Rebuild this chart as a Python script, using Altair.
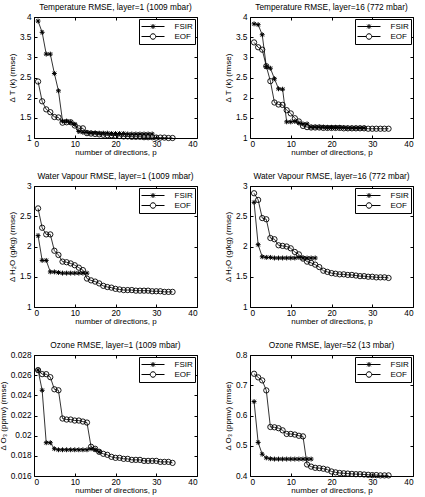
import altair as alt
import pandas as pd

FONT = "Liberation Sans"

# Retrieval error versus number of directions p (FSIR and EOF bases)
temp1_fsir = [3.90, 3.62, 3.08, 3.08, 2.60, 2.17, 1.42, 1.42, 1.39, 1.34, 1.16, 1.14, 1.14, 1.13,
              1.13, 1.12, 1.12, 1.12, 1.11, 1.11, 1.11, 1.11, 1.10, 1.10, 1.10, 1.10, 1.10, 1.10, 1.10]
temp1_eof = [2.40, 1.91, 1.71, 1.64, 1.52, 1.51, 1.38, 1.39, 1.39, 1.31, 1.24, 1.24, 1.12, 1.11,
             1.10, 1.09, 1.08, 1.07, 1.07, 1.06, 1.05, 1.04, 1.04, 1.03, 1.03, 1.03, 1.02, 1.02,
             1.02, 1.01, 1.01, 1.01, 1.00, 1.00]

temp16_fsir = [3.83, 3.81, 3.56, 2.77, 2.73, 2.47, 2.22, 2.21, 1.40, 1.40, 1.41, 1.37, 1.35, 1.35,
               1.27, 1.27, 1.27, 1.27, 1.26, 1.26, 1.26, 1.26, 1.26, 1.25, 1.25, 1.25, 1.25, 1.25]
temp16_eof = [3.37, 3.25, 3.19, 2.78, 2.41, 1.88, 1.83, 1.82, 1.69, 1.61, 1.49, 1.41, 1.30, 1.27,
              1.26, 1.26, 1.26, 1.25, 1.25, 1.25, 1.25, 1.25, 1.24, 1.24, 1.24, 1.24, 1.24, 1.24,
              1.23, 1.23, 1.23, 1.23, 1.23, 1.23]

wv1_fsir = [2.18, 1.77, 1.77, 1.58, 1.58, 1.57, 1.56, 1.56, 1.56, 1.56, 1.56, 1.56, 1.56]
wv1_eof = [2.63, 2.31, 2.20, 2.20, 1.93, 1.86, 1.75, 1.74, 1.72, 1.69, 1.65, 1.61, 1.47, 1.44,
           1.42, 1.39, 1.35, 1.33, 1.32, 1.30, 1.29, 1.28, 1.28, 1.28, 1.27, 1.27, 1.27, 1.27,
           1.26, 1.26, 1.26, 1.25, 1.25, 1.25]

wv16_fsir = [2.73, 2.03, 1.83, 1.82, 1.82, 1.81, 1.81, 1.81, 1.81, 1.81, 1.81, 1.82, 1.81, 1.81,
             1.81, 1.81]
wv16_eof = [2.88, 2.77, 2.47, 2.45, 2.14, 2.12, 2.02, 2.01, 2.00, 1.97, 1.91, 1.87, 1.80, 1.75,
            1.73, 1.70, 1.66, 1.60, 1.58, 1.56, 1.55, 1.54, 1.54, 1.53, 1.53, 1.52, 1.51, 1.51,
            1.50, 1.50, 1.49, 1.49, 1.49, 1.48]

o3_1_fsir = [0.0265, 0.0245, 0.0193, 0.0193, 0.0187, 0.0186, 0.0186, 0.0186, 0.0186, 0.0186,
             0.0186, 0.0186, 0.0186, 0.0187, 0.0186, 0.0184]
o3_1_eof = [0.0265, 0.0261, 0.0261, 0.0258, 0.0246, 0.0245, 0.0217, 0.0216, 0.0216, 0.0215,
            0.0215, 0.0214, 0.0213, 0.0189, 0.0187, 0.0184, 0.0182, 0.0181, 0.0179, 0.0178,
            0.0178, 0.0177, 0.0177, 0.0176, 0.0176, 0.0176, 0.0175, 0.0175, 0.0175, 0.0175,
            0.0174, 0.0174, 0.0174, 0.0173]

o3_52_fsir = [0.646, 0.511, 0.472, 0.460, 0.457, 0.456, 0.456, 0.456, 0.456, 0.456, 0.456,
              0.456, 0.456, 0.456, 0.456]
o3_52_eof = [0.738, 0.726, 0.716, 0.683, 0.562, 0.561, 0.558, 0.551, 0.539, 0.539, 0.537, 0.533,
             0.531, 0.438, 0.431, 0.427, 0.426, 0.424, 0.421, 0.415, 0.412, 0.410, 0.409, 0.408,
             0.407, 0.406, 0.406, 0.405, 0.404, 0.403, 0.403, 0.402, 0.402, 0.402]

x_ticks = [0, 10, 20, 30, 40]
temp_ticks = [1, 1.5, 2, 2.5, 3, 3.5, 4]
wv_ticks = [1, 1.5, 2, 2.5, 3]
o3_1_ticks = [0.016, 0.018, 0.020, 0.022, 0.024, 0.026, 0.028]
o3_52_ticks = [0.4, 0.5, 0.6, 0.7, 0.8]

# marker glyphs: asterisk for FSIR, plus legend keys (line with marker)
ASTERISK = "M0,-1V1M-1,0H1M-0.72,-0.72L0.72,0.72M-0.72,0.72L0.72,-0.72"
KEY_FSIR = "M-2.3,0H2.3M0,-0.5V0.5M-0.36,-0.36L0.36,0.36M-0.36,0.36L0.36,-0.36"
KEY_EOF = ("M-2.3,0H-0.55M0.55,0H2.3"
           "M0.55,0A0.55,0.55,0,1,1,-0.55,0A0.55,0.55,0,1,1,0.55,0")

PW, PH = 163, 121
INNER = dict(offset=-3, tickSize=3, domain=False, grid=False)


def frame(fsir, eof):
    rows = []
    for name, vals in (("FSIR", fsir), ("EOF", eof)):
        for i, v in enumerate(vals, start=1):
            rows.append({"p": i, "value": v, "series": name})
    return pd.DataFrame(rows)


def panel(title, ytitle, fsir, eof, ydomain, yticks):
    base = alt.Chart(frame(fsir, eof))
    xs = alt.Scale(domain=[0, 40], nice=False, zero=False)
    ys = alt.Scale(domain=ydomain, nice=False, zero=False)

    lines = base.mark_line(color="black", strokeWidth=0.8).encode(
        x=alt.X("p:Q", scale=xs,
                axis=alt.Axis(orient="bottom", values=x_ticks,
                              title="number of directions, p", **INNER)),
        y=alt.Y("value:Q", scale=ys,
                axis=alt.Axis(orient="left", values=yticks, format="~g",
                              title=ytitle, **INNER)),
        detail="series:N",
    )
    fsir_pts = base.transform_filter(alt.datum.series == "FSIR").mark_point(
        shape=ASTERISK, size=24, filled=False, color="black", strokeWidth=1, opacity=1
    ).encode(
        x=alt.X("p:Q", scale=xs, axis=None),
        y=alt.Y("value:Q", scale=ys, axis=None),
    )
    eof_pts = base.transform_filter(alt.datum.series == "EOF").mark_point(
        shape="circle", size=28, filled=False, color="black", strokeWidth=0.9, opacity=1
    ).encode(
        x=alt.X("p:Q", scale=xs, axis=None),
        y=alt.Y("value:Q", scale=ys, axis=None),
    )
    # mirrored inward ticks on the top and right edges, and the legend
    keys = base.transform_filter(alt.datum.p < 0).mark_point(
        filled=False, color="black", strokeWidth=1, opacity=1
    ).encode(
        x=alt.X("p:Q", scale=xs,
                axis=alt.Axis(orient="top", values=x_ticks, labels=False, title=None, **INNER)),
        y=alt.Y("value:Q", scale=ys,
                axis=alt.Axis(orient="right", values=yticks, labels=False, title=None, **INNER)),
        shape=alt.Shape(
            "series:N",
            scale=alt.Scale(domain=["FSIR", "EOF"], range=[KEY_FSIR, KEY_EOF]),
            legend=alt.Legend(
                title=None, orient="top-right", offset=2, padding=2,
                strokeColor="black", fillColor="white", cornerRadius=0,
                labelFont=FONT, labelFontSize=8, labelColor="black",
                symbolSize=100, symbolStrokeWidth=1, symbolStrokeColor="black",
                symbolOffset=6.5, labelOffset=16, rowPadding=0,
            ),
        ),
    )
    return alt.layer(lines, fsir_pts, eof_pts, keys).properties(
        width=PW, height=PH, title=title
    )


panels = [
    panel("Temperature RMSE, layer=1 (1009 mbar)", "Δ T (k) (rmse)",
          temp1_fsir, temp1_eof, [1, 4], temp_ticks),
    panel("Temperature RMSE, layer=16 (772 mbar)", "Δ T (k) (rmse)",
          temp16_fsir, temp16_eof, [1, 4], temp_ticks),
    panel("Water Vapour RMSE, layer=1 (1009 mbar)", "Δ H₂O (g/kg) (rmse)",
          wv1_fsir, wv1_eof, [1, 3], wv_ticks),
    panel("Water Vapour RMSE, layer=16 (772 mbar)", "Δ H₂O (g/kg) (rmse)",
          wv16_fsir, wv16_eof, [1, 3], wv_ticks),
    panel("Ozone RMSE, layer=1 (1009 mbar)", "Δ O₃ (ppmv) (rmse)",
          o3_1_fsir, o3_1_eof, [0.016, 0.028], o3_1_ticks),
    panel("Ozone RMSE, layer=52 (13 mbar)", "Δ O₃ (ppmv) (rmse)",
          o3_52_fsir, o3_52_eof, [0.4, 0.8], o3_52_ticks),
]

chart = alt.concat(
    *panels, columns=2, spacing={"row": 48, "column": 53}, bounds="flush"
).resolve_scale(shape="independent").resolve_legend(shape="independent").properties(
    padding={"left": -2, "top": 2, "right": 0, "bottom": 0},
    background="white",
).configure_view(
    stroke="black", strokeWidth=1
).configure_axis(
    labelFont=FONT, labelFontSize=8.3, labelColor="black",
    titleFont=FONT, titleFontSize=8, titleFontWeight="normal", titleColor="black",
    tickColor="black", tickWidth=1,
).configure_axisX(
    labelPadding=1.5, titlePadding=0.5
).configure_axisY(
    labelPadding=3, titlePadding=3
).configure_title(
    font=FONT, fontSize=8.3, fontWeight="normal", color="black", offset=1
)

chart.save("out.html", embed_options={"renderer": "svg", "actions": False})
